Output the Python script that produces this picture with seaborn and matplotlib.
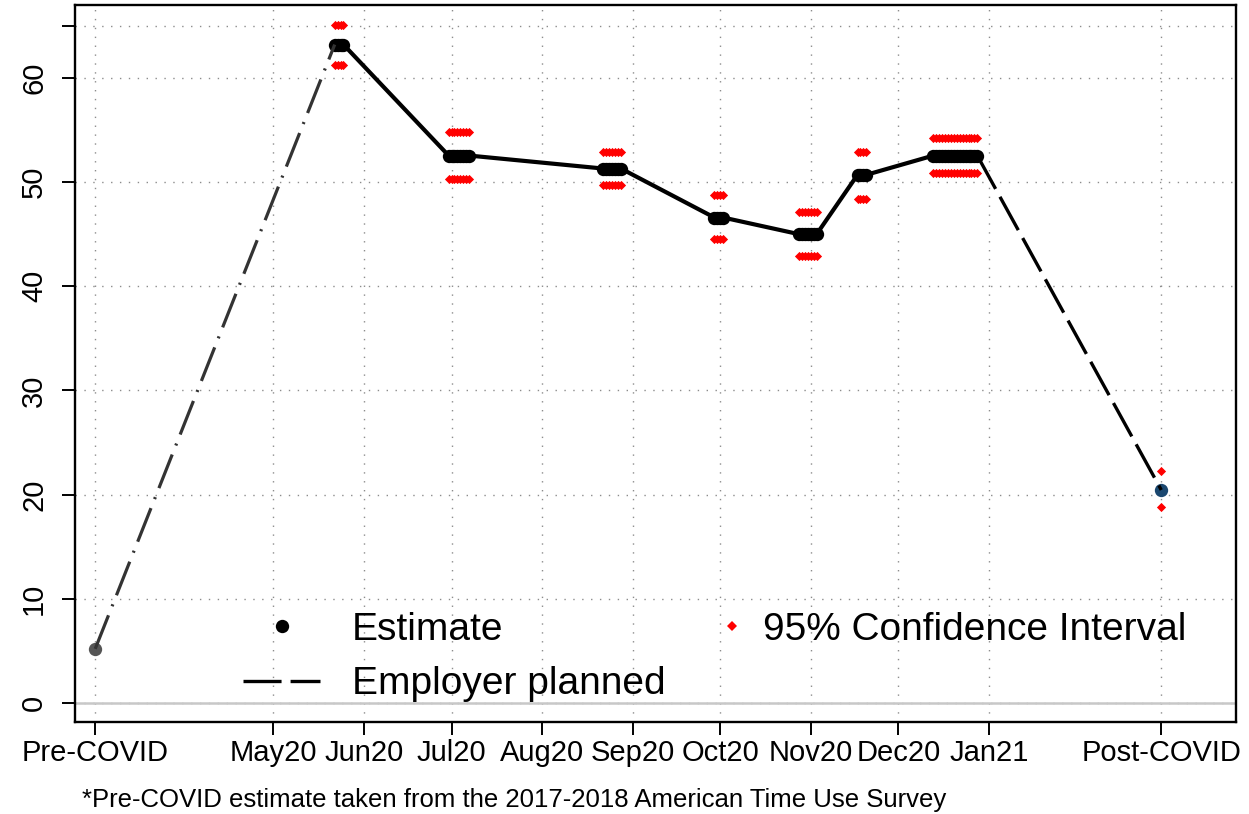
import numpy as np
import pandas as pd
import matplotlib
matplotlib.use("Agg")
import matplotlib.pyplot as plt
from matplotlib.lines import Line2D
import seaborn as sns

# ---------------- data ----------------
wave_start = ["2020-05-22", "2020-06-30", "2020-08-22", "2020-09-29",
              "2020-10-28", "2020-11-17", "2020-12-13"]
wave_end = ["2020-05-25", "2020-07-07", "2020-08-28", "2020-10-02",
            "2020-11-03", "2020-11-20", "2020-12-28"]
wave_est = [63.2, 52.55, 51.3, 46.6, 45.0, 50.7, 52.55]
wave_lo = [61.25, 50.3, 49.75, 44.5, 42.9, 48.4, 50.85]
wave_hi = [65.1, 54.85, 52.85, 48.75, 47.15, 52.85, 54.2]

pre_date = "2020-03-01"
pre_est = 5.2
post_date = "2021-03-01"
post_est = 20.45
post_lo = 18.8
post_hi = 22.3

tick_dates = ["2020-03-01", "2020-05-01", "2020-06-01", "2020-07-01",
              "2020-08-01", "2020-09-01", "2020-10-01", "2020-11-01",
              "2020-12-01", "2021-01-01", "2021-03-01"]
tick_labels = ["Pre-COVID", "May20", "Jun20", "Jul20", "Aug20", "Sep20",
               "Oct20", "Nov20", "Dec20", "Jan21", "Post-COVID"]
y_ticks = [0, 10, 20, 30, 40, 50, 60, 65]
y_labels = ["0", "10", "20", "30", "40", "50", "60", ""]

legend_labels = ["Estimate", "95% Confidence Interval", "Employer planned"]
footnote = "*Pre-COVID estimate taken from the 2017-2018 American Time Use Survey"

# ---------------- tables built from the data ----------------
rows = []
for s, e, est, lo, hi in zip(wave_start, wave_end, wave_est, wave_lo, wave_hi):
    for d in pd.date_range(s, e, freq="D"):
        rows.append({"date": d, "est": est, "lo": lo, "hi": hi})
est_df = pd.DataFrame(rows)
ci_df = pd.concat([
    est_df[["date", "lo"]].rename(columns={"lo": "v"}),
    est_df[["date", "hi"]].rename(columns={"hi": "v"}),
    pd.DataFrame({"date": pd.to_datetime([post_date, post_date]),
                  "v": [post_lo, post_hi]}),
], ignore_index=True)
pre_line = pd.DataFrame({"date": pd.to_datetime([pre_date, est_df["date"].iloc[0]]),
                         "v": [pre_est, est_df["est"].iloc[0]]})
post_line = pd.DataFrame({"date": pd.to_datetime([est_df["date"].iloc[-1], post_date]),
                          "v": [est_df["est"].iloc[-1], post_est]})
pre_pt = pd.DataFrame({"date": pd.to_datetime([pre_date]), "v": [pre_est]})
post_pt = pd.DataFrame({"date": pd.to_datetime([post_date]), "v": [post_est]})

# ---------------- style ----------------
sns.set_theme(style="white")
plt.rcParams["font.family"] = ["Liberation Sans", "DejaVu Sans"]
plt.rcParams["lines.scale_dashes"] = False
plt.rcParams["text.color"] = "black"

W, H = 1249, 814
fig, ax = plt.subplots(figsize=(W / 100, H / 100), dpi=100)
fig.subplots_adjust(left=75 / W, right=1236 / W, bottom=1 - 722 / H, top=1 - 5 / H)

RED = "#ff0000"
NAVY = "#1a476f"
DASH_EMP = (0, (27.4, 6.5))
DASH_PRE = (0, (26, 7, 1.5, 7))

ax.axhline(0, color="#c8c8c8", lw=1.8, zorder=1)

sns.scatterplot(data=ci_df, x="date", y="v", ax=ax, color=RED, marker="D",
                s=22, linewidth=0, zorder=3, legend=False)
sns.lineplot(data=est_df, x="date", y="est", ax=ax, color="black", lw=3.0,
             marker="o", markersize=9.6, markeredgewidth=0, estimator=None,
             solid_joinstyle="round", zorder=4, legend=False)
sns.scatterplot(data=pre_pt, x="date", y="v", ax=ax, color="#555555", s=92,
                linewidth=0, zorder=4, legend=False)
sns.scatterplot(data=post_pt, x="date", y="v", ax=ax, color=NAVY, s=92,
                linewidth=0, zorder=4, legend=False)
sns.lineplot(data=pre_line, x="date", y="v", ax=ax, color="#333333", lw=2.3,
             linestyle=DASH_PRE, estimator=None, zorder=5, legend=False)
sns.lineplot(data=post_line, x="date", y="v", ax=ax, color="black", lw=2.4,
             linestyle=DASH_EMP, estimator=None, zorder=5, legend=False)

ax.set_xlim(pd.Timestamp("2020-02-23 02:00"), pd.Timestamp("2021-03-26 14:00"))
ax.set_ylim(-1.82, 67.0)
ax.set_xticks(pd.to_datetime(tick_dates))
ax.set_xticklabels(tick_labels)
ax.set_yticks(y_ticks)
ax.set_yticklabels(y_labels)
ax.set_xlabel("")
ax.set_ylabel("")

ax.grid(True, color="#8c8c8c", lw=1.0, linestyle=(0, (1.0, 5.4)))
ax.set_axisbelow(True)
for sp in ax.spines.values():
    sp.set_visible(True)
    sp.set_color("black")
    sp.set_linewidth(1.7)

ax.tick_params(axis="both", direction="out", length=9.4, width=1.4,
               color="black", labelsize=21, labelcolor="black",
               bottom=True, left=True)
ax.tick_params(axis="x", pad=3)
ax.tick_params(axis="y", pad=10)
for lab in ax.get_yticklabels():
    lab.set_rotation(90)
    lab.set_va("center")
    lab.set_ha("right")

h_est = Line2D([], [], ls="none", marker="o", color="black", markersize=9.6, mew=0)
h_ci = Line2D([], [], ls="none", marker="D", color=RED, markersize=4.6, mew=0)
h_emp = Line2D([], [], color="black", lw=2.4, linestyle=DASH_EMP)

leg1 = ax.legend([h_est, h_emp], [legend_labels[0], legend_labels[2]],
                 loc="upper left", bbox_to_anchor=(243 / W, 1 - 612 / H),
                 bbox_transform=fig.transFigure, frameon=False, fontsize=28,
                 handlelength=1.98, handletextpad=0.82, labelspacing=0.47,
                 borderpad=0, borderaxespad=0, labelcolor="black")
ax.add_artist(leg1)
ax.legend([h_ci], [legend_labels[1]],
          loc="upper left", bbox_to_anchor=(716.5 / W, 1 - 612 / H),
          bbox_transform=fig.transFigure, frameon=False, fontsize=28,
          handlelength=0.8, handletextpad=0.4, borderpad=0, borderaxespad=0,
          labelcolor="black")

fig.text(82 / W, 1 - 800 / H, footnote, fontsize=18.5, ha="left", va="center",
         color="black")

fig.savefig("out.png", dpi=100)
